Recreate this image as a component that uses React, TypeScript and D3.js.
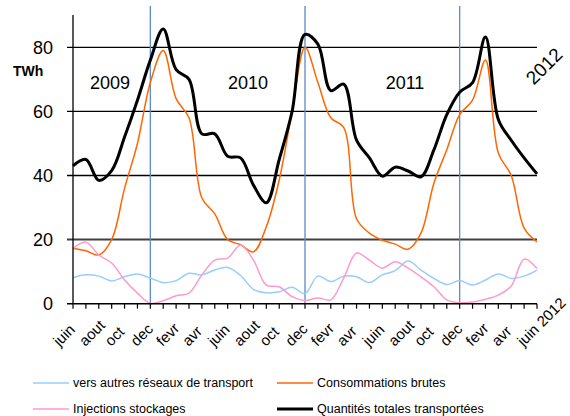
import { line, curveCatmullRom, scaleLinear, range } from "d3"

const months = ["juin", "juil", "aout", "sept", "oct", "nov", "dec", "janv", "fevr", "mars", "avr", "mai"]
const yearLabels = ["2009", "2010", "2011"]
const yTicks = [0, 20, 40, 60, 80]

// monthly values, juin 2009 .. juin 2012 (TWh)
const total = [43, 45, 38.5, 41.5, 52, 63.5, 76, 85.7, 73, 70, 53, 53, 46, 45.5, 37, 31.5, 45, 60, 84, 81, 66.5, 68.5, 51, 45.5, 39.8, 42.6, 41.4, 39.6, 48, 59, 66, 69, 83.2, 57.5, 51, 45.5, 40.5]
const conso = [17.2, 16.5, 15.2, 20, 36, 50, 69, 79, 64, 58, 33, 28, 20, 18.4, 16.2, 24, 38.6, 60, 80, 69, 58, 55, 26.5, 22, 19.8, 18.6, 17, 22, 37.6, 48, 59, 63.5, 76, 47, 40, 23.6, 19.3]
const injections = [17.2, 19.2, 15.2, 12.7, 7.4, 3.3, 0.1, 0.9, 2.5, 3.3, 9, 13.6, 14.2, 18.3, 13.6, 5.8, 5.3, 2.2, 1, 1.8, 1.2, 8, 15.8, 13.6, 11.1, 13.1, 11.1, 8.4, 5.3, 1.2, 0.3, 0.5, 1.4, 2.7, 5.5, 13.9, 11]
const autres = [8.1, 9, 8.6, 7.1, 8.4, 9.3, 8, 6.6, 7.2, 9.5, 9, 10.5, 11.3, 8.8, 4.5, 3.4, 3.7, 5.1, 3.2, 8.6, 6.9, 8.6, 8.4, 6.6, 9, 10.3, 13.3, 10.5, 7.9, 6, 7.2, 5.8, 7.4, 9.3, 7.9, 8.6, 10.5]

const series = [
    { name: "vers autres réseaux de transport", values: autres, color: "#99ccff", width: 1.5 },
    { name: "Consommations brutes", values: conso, color: "#ff6600", width: 1.5 },
    { name: "Injections stockages", values: injections, color: "#ff99cc", width: 1.5 },
    { name: "Quantités totales transportées", values: total, color: "#000000", width: 3 },
]

const font = "'Liberation Sans', Arial, sans-serif"

const App = () => {
    const width = 570
    const height = 416
    const nMonths = total.length - 1

    const x = scaleLinear().domain([0, nMonths]).range([73, 537])
    const y = scaleLinear().domain([0, 80]).range([303.7, 47.3])

    const path = (vals: number[]) => line<number>()
        .x((d, i) => x(i))
        .y(d => y(d))
        .curve(curveCatmullRom.alpha(0.5))(vals)

    const labelIdx = range(0, nMonths + 1, 2)
    const decIdx = [6, 18, 30]

    return (
        <svg width={width} height={height} style={{ position: "absolute", left: 0, top: 0, fontFamily: font }}>
            <rect width={width} height={height} fill="#fff" />
            {yTicks.filter(t => t > 0).map(t => (
                <line key={t} x1={67} x2={537} y1={y(t)} y2={y(t)}
                    stroke={t === 20 ? "#404040" : "#000"} strokeWidth={t === 20 ? 2 : 1.3} />
            ))}
            {decIdx.map(i => (
                <line key={i} x1={x(i)} x2={x(i)} y1={6} y2={y(0)} stroke="#5b8bc9" strokeWidth={1.3} />
            ))}
            {series.map(s => (
                <path key={s.name} d={path(s.values) ?? ""} fill="none" stroke={s.color} strokeWidth={s.width} strokeLinejoin="round" />
            ))}
            {/* axes */}
            <line x1={73} x2={73} y1={15} y2={y(0)} stroke="#000" strokeWidth={1.3} />
            <line x1={67} x2={537} y1={y(0)} y2={y(0)} stroke="#000" strokeWidth={1.5} />
            {range(0, nMonths + 1).map(i => (
                <line key={i} x1={x(i)} x2={x(i)} y1={y(0)} y2={y(0) + 5} stroke="#000" strokeWidth={1.2} />
            ))}
            {yTicks.map(t => (
                <text key={t} x={53} y={y(t)} dy="0.35em" textAnchor="end" fontSize={18}>{t}</text>
            ))}
            <text x={13} y={76} fontSize={14} fontWeight="bold">TWh</text>
            {labelIdx.map(i => (
                <text key={i} transform={`translate(${x(i) - 13.5},347) rotate(-45)`} textAnchor="start" fontSize={15}>
                    {months[i % 12] + (i === nMonths ? " 2012" : "")}
                </text>
            ))}
            {yearLabels.map((yl, k) => (
                <text key={yl} x={[110, 248, 405][k]} y={83} dy="0.35em" textAnchor="middle" fontSize={18}>{yl}</text>
            ))}
            <text transform="translate(544,66) rotate(-45)" textAnchor="middle" dy="0.35em" fontSize={19}>2012</text>
            {/* legend */}
            {series.map((s, k) => {
                const lx = k % 2 === 0 ? 33 : 277
                const ly = k < 2 ? 383 : 409
                return (
                    <g key={s.name}>
                        <line x1={lx} x2={lx + 36} y1={ly} y2={ly} stroke={s.color} strokeWidth={s.width === 3 ? 3 : 1.5} />
                        <text x={lx + 40} y={ly} dy="0.35em" fontSize={12.5}>{s.name}</text>
                    </g>
                )
            })}
        </svg>
    )
}

export default App
